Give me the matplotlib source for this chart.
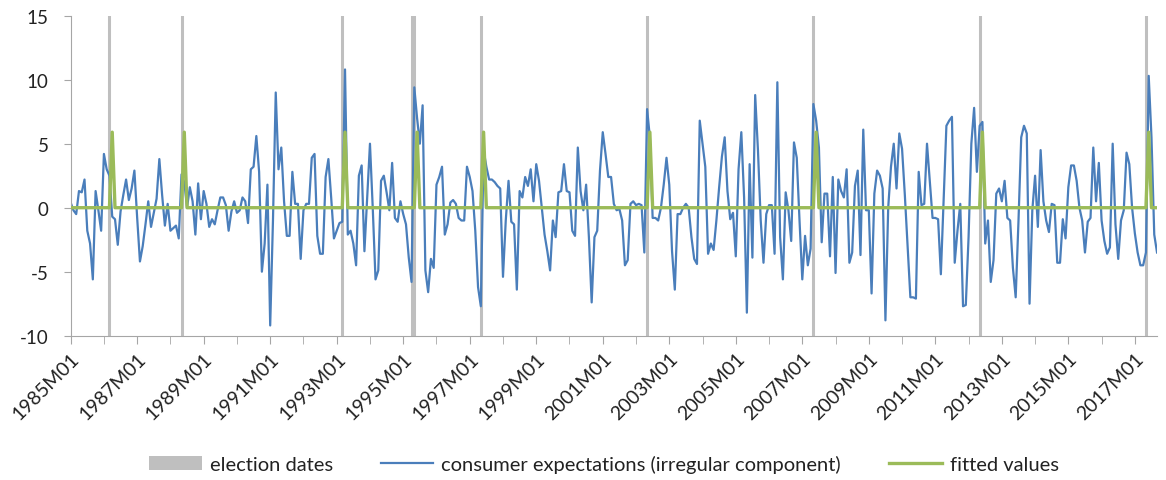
import numpy as np
import matplotlib.pyplot as plt
from matplotlib.patches import Patch
from matplotlib.lines import Line2D

plt.rcParams['font.family'] = ['Lato', 'DejaVu Sans']
plt.rcParams['axes.unicode_minus'] = False

# monthly labels 1985M01 .. 2017M09
months = [f"{y}M{m:02d}" for y in range(1985, 2018) for m in range(1, 13)][:393]

# consumer expectations, irregular component (one row per year)
irregular = [
    0.4, -0.2, -0.5, 1.3, 1.2, 2.2, -1.8, -2.8, -5.6, 1.3, -0.2, -1.8,
    4.2, 3.0, 2.5, -0.7, -0.9, -2.9, -0.3, 1.0, 2.2, 0.6, 1.5, 2.9,
    -0.8, -4.2, -3.0, -1.3, 0.5, -1.5, -0.4, 0.7, 3.8, 1.0, -1.4, 0.3,
    -1.8, -1.6, -1.4, -2.4, 2.6, 2.0, 0.0, 1.6, 0.5, -2.1, 1.9, -0.9,
    1.3, 0.3, -1.5, -0.9, -1.3, -0.2, 0.8, 0.8, 0.2, -1.8, -0.3, 0.5,
    -0.4, -0.2, 0.8, 0.5, -1.2, 3.0, 3.2, 5.6, 2.8, -5.0, -2.8, 1.8,
    -9.2, -1.0, 9.0, 3.0, 4.7, 0.5, -2.2, -2.2, 2.8, 0.3, 0.3, -4.0,
    -0.2, 0.3, 0.3, 3.9, 4.2, -2.2, -3.6, -3.6, 2.4, 3.8, 0.8, -2.4,
    -1.8, -1.2, -1.1, 10.8, -2.1, -1.8, -2.8, -4.5, 2.5, 3.3, -3.4, 0.8,
    5.0, 0.0, -5.6, -4.9, 2.1, 2.5, 1.2, -0.2, 3.5, -0.8, -1.1, 0.5,
    -0.5, -1.3, -3.9, -5.8, 9.4, 7.0, 5.0, 8.0, -4.9, -6.6, -4.0, -4.7,
    1.8, 2.4, 3.2, -2.1, -1.3, 0.4, 0.6, 0.3, -0.8, -1.0, -1.0, 3.2,
    2.4, 1.3, -1.8, -6.2, -7.7, 4.5, 3.2, 2.2, 2.2, 2.0, 1.7, 1.5,
    -5.4, -1.0, 2.1, -1.1, -1.3, -6.4, 1.3, 0.8, 2.4, 1.7, 3.0, 0.5,
    3.4, 2.1, 0.0, -2.1, -3.4, -4.9, -1.0, -2.3, 1.2, 1.3, 3.4, 1.3,
    1.2, -1.8, -2.2, 4.7, 1.3, -0.2, 1.8, -2.3, -7.4, -2.3, -1.8, 2.9,
    5.9, 4.2, 2.4, 2.4, 0.3, -0.2, -0.1, -1.0, -4.5, -4.1, 0.3, 0.5,
    0.2, 0.3, 0.2, -3.5, 7.7, 5.5, -0.8, -0.8, -1.0, 0.0, 1.8, 3.9,
    1.8, -3.4, -6.4, -0.5, -0.5, 0.0, 0.3, 0.0, -2.3, -4.0, -4.4, 6.8,
    5.0, 3.2, -3.6, -2.8, -3.3, -1.0, 1.6, 4.0, 5.5, 1.3, -0.9, -0.4,
    -3.8, 3.0, 5.9, 0.8, -8.2, 3.4, -3.9, 8.8, 4.5, -1.0, -4.3, -0.5,
    0.2, 0.2, -3.6, 9.8, -2.3, -5.6, 1.2, -0.2, -2.6, 5.1, 3.9, -1.0,
    -5.6, -2.2, -4.5, -3.2, 8.1, 6.8, 4.7, -2.7, 1.1, 1.1, -3.8, 2.4,
    -5.1, 2.2, 1.3, 0.8, 3.0, -4.3, -3.5, 1.7, 2.9, -3.7, 6.1, -0.2,
    -0.2, -6.7, 1.1, 2.9, 2.5, 1.5, -8.8, 0.0, 3.2, 5.0, 1.5, 5.8,
    4.6, 1.0, -3.0, -7.0, -7.0, -7.1, 2.8, 0.2, 0.3, 5.0, 2.1, -0.8,
    -0.8, -0.9, -5.2, 0.5, 6.4, 6.8, 7.1, -4.3, -1.8, 0.3, -7.7, -7.6,
    -2.3, 5.0, 7.8, 2.8, 6.4, 6.7, -2.8, -1.0, -5.8, -4.1, 1.1, 1.5,
    0.5, 2.1, -0.8, -1.0, -4.7, -7.0, -1.1, 5.5, 6.4, 5.8, -7.5, -0.2,
    2.5, -1.5, 4.5, 0.5, -1.0, -1.9, 0.3, 0.2, -4.3, -4.3, -0.9, -2.4,
    1.6, 3.3, 3.3, 2.1, 0.0, -1.0, -3.5, -1.1, -0.8, 4.7, 0.5, 3.5,
    -1.0, -2.6, -3.6, -3.1, 5.0, -1.3, -4.0, -1.0, -0.2, 4.3, 3.4, 0.0,
    -2.0, -3.5, -4.5, -4.5, -3.5, 10.3, 5.5, -2.1, -3.5,
]

# election months and the months the fitted dummy picks up
elections = ["1986M03", "1988M05", "1993M03", "1995M04", "1995M05", "1997M05",
             "2002M05", "2007M05", "2012M05", "2017M05"]
fitted_months = ["1986M04", "1988M06", "1993M04", "1995M06", "1997M06",
                 "2002M06", "2007M06", "2012M06", "2017M06"]
fitted_peak = 5.9

x = np.arange(len(months))
fitted = np.zeros(len(months))
for m in fitted_months:
    fitted[months.index(m)] = fitted_peak

blue = '#4A7EBB'
green = '#9BBB59'
grey = '#BFBFBF'
axis_col = '#A6A6A6'
text_col = '#222222'

fig = plt.figure(figsize=(11.66, 4.81), dpi=100)
ax = fig.add_axes([0.0606, 0.300, 0.9317, 0.6653])

for e in elections:
    ax.axvline(months.index(e), color=grey, lw=2.2, zorder=1)

ax.plot(x, irregular, color=blue, lw=1.6, zorder=2)
ax.plot(x, fitted, color=green, lw=2.4, zorder=3)

ax.set_xlim(0, len(months) - 1)
ax.set_ylim(-10, 15)
ax.set_yticks(np.arange(-10, 16, 5))

year_ticks = [i for i, m in enumerate(months) if m.endswith("M01")]
ax.set_xticks(year_ticks, minor=True)
ax.set_xticks(year_ticks[::2])
ax.set_xticklabels([months[i] for i in year_ticks[::2]], rotation=45,
                   ha='right', va='top', rotation_mode='anchor')

for s in ['top', 'right']:
    ax.spines[s].set_visible(False)
for s in ['left', 'bottom']:
    ax.spines[s].set_color(axis_col)
ax.tick_params(axis='x', which='both', length=6, color=axis_col, pad=4,
               labelsize=14, labelcolor=text_col)
ax.tick_params(axis='y', length=5, color=axis_col, pad=11,
               labelsize=13.5, labelcolor=text_col)

handles = [Patch(facecolor=grey, edgecolor='none'),
           Line2D([], [], color=blue, lw=1.6),
           Line2D([], [], color=green, lw=2.4)]
labels = ['election dates', 'consumer expectations (irregular component)',
          'fitted values']
fig.legend(handles, labels, loc='center', bbox_to_anchor=(0.518, 0.033),
           ncol=3, frameon=False, fontsize=14.5, handlelength=2.6,
           handletextpad=0.4, columnspacing=2.4, labelcolor=text_col)

fig.savefig('out.png', dpi=100)
